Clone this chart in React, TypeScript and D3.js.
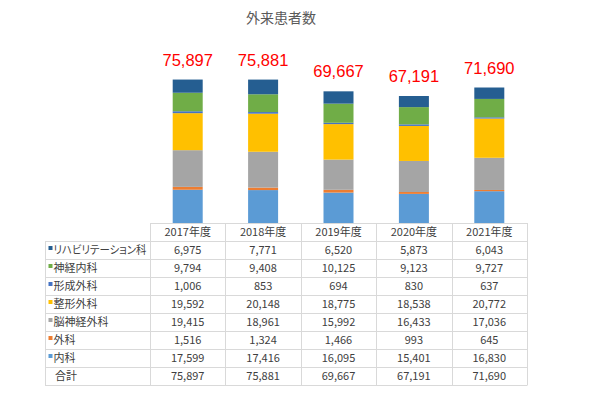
import { useEffect, useRef } from "react";
import * as d3 from "d3";

const width = 596;
const height = 397;

const years = ["2017年度", "2018年度", "2019年度", "2020年度", "2021年度"];
// bottom to top of the stack
const depts = ["内科", "外科", "脳神経外科", "整形外科", "形成外科", "神経内科", "リハビリテーション科"];
const colors = ["#5B9BD5", "#ED7D31", "#A5A5A5", "#FFC000", "#4472C4", "#70AD47", "#255E91"];

const naika = [17599, 17416, 16095, 15401, 16830];
const geka = [1516, 1324, 1466, 993, 645];
const noushinkei = [19415, 18961, 15992, 16433, 17036];
const seikei = [19592, 20148, 18775, 18538, 20772];
const keisei = [1006, 853, 694, 830, 637];
const shinkeinaika = [9794, 9408, 10125, 9123, 9727];
const rehab = [6975, 7771, 6520, 5873, 6043];
const totals = [75897, 75881, 69667, 67191, 71690];

const seriesValues = [naika, geka, noushinkei, seikei, keisei, shinkeinaika, rehab];

const jp = '"Noto Sans CJK JP", "Noto Sans", sans-serif';

const App = () => {
  const svgRef = useRef<SVGSVGElement>(null);

  useEffect(() => {
    const svg = d3.select(svgRef.current);
    svg.selectAll("*").remove();

    const tableTop = 223;
    const rowH = 18;
    const x = d3.scaleBand().domain(years).range([150, 527]).padding(0);
    const y = d3.scaleLinear().domain([0, 100000]).range([tableTop, 34]);
    const barW = 30;

    const rows = years.map((yr, i) => {
      const r: any = { year: yr };
      depts.forEach((d, j) => (r[d] = seriesValues[j][i]));
      return r;
    });
    const stacked = d3.stack().keys(depts)(rows);

    svg
      .append("text")
      .attr("x", 281)
      .attr("y", 23)
      .attr("text-anchor", "middle")
      .attr("font-family", jp)
      .attr("font-size", 14)
      .attr("fill", "#595959")
      .text("外来患者数");

    svg
      .append("g")
      .selectAll("g")
      .data(stacked)
      .join("g")
      .attr("fill", (_d, i) => colors[i])
      .selectAll("rect")
      .data((d) => d)
      .join("rect")
      .attr("x", (d: any) => x(d.data.year)! + x.bandwidth() / 2 - barW / 2)
      .attr("width", barW)
      .attr("y", (d) => y(d[1]))
      .attr("height", (d) => y(d[0]) - y(d[1]));

    svg
      .append("g")
      .selectAll("text")
      .data(totals)
      .join("text")
      .attr("x", (_d, i) => x(years[i])! + x.bandwidth() / 2)
      .attr("y", (d) => y(d) - 14)
      .attr("text-anchor", "middle")
      .attr("font-family", '"Liberation Sans", Arial, sans-serif')
      .attr("font-size", 16.5)
      .attr("fill", "#FF0000")
      .text((d) => d3.format(",")(d));

    // table
    const tbl = svg.append("g");
    const labelRows = [...depts].reverse();
    const labelColors = [...colors].reverse();
    const valueRows = [...seriesValues].reverse();
    const nRows = labelRows.length + 1;
    const bottom = tableTop + rowH * (nRows + 1);
    const line = "#D9D9D9";
    const fmt = d3.format(",");

    // horizontal lines
    tbl
      .append("line")
      .attr("x1", 150).attr("x2", 527)
      .attr("y1", tableTop + 0.5).attr("y2", tableTop + 0.5)
      .attr("stroke", line);
    for (let r = 1; r <= nRows + 1; r++) {
      const yy = tableTop + r * rowH + 0.5;
      tbl
        .append("line")
        .attr("x1", 45).attr("x2", 527)
        .attr("y1", yy).attr("y2", yy)
        .attr("stroke", line);
    }
    // vertical lines
    tbl
      .append("line")
      .attr("x1", 45.5).attr("x2", 45.5)
      .attr("y1", tableTop + rowH).attr("y2", bottom + 0.5)
      .attr("stroke", line);
    [150, ...years.map((yr) => x(yr)! + x.bandwidth())].forEach((xx) => {
      const px = Math.round(xx) + 0.5;
      tbl
        .append("line")
        .attr("x1", px).attr("x2", px)
        .attr("y1", tableTop).attr("y2", bottom + 0.5)
        .attr("stroke", line);
    });

    // header
    tbl
      .selectAll(".hdr")
      .data(years)
      .join("text")
      .attr("class", "hdr")
      .attr("x", (d) => x(d)! + x.bandwidth() / 2)
      .attr("y", tableTop + rowH / 2 + 4)
      .attr("text-anchor", "middle")
      .attr("font-family", jp)
      .attr("font-size", 11)
      .attr("fill", "#404040")
      .text((d) => d);

    labelRows.forEach((lab, r) => {
      const cy = tableTop + (r + 1) * rowH + rowH / 2;
      tbl
        .append("rect")
        .attr("x", 48.5)
        .attr("y", cy - 4)
        .attr("width", 4)
        .attr("height", 4)
        .attr("fill", labelColors[r]);
      const t = tbl
        .append("text")
        .attr("x", 53.5)
        .attr("y", cy + 4)
        .attr("font-family", jp)
        .attr("font-size", 11)
        .style("font-feature-settings", '"palt"')
        .attr("fill", "#404040")
        .text(lab);
      const node = t.node() as SVGTextElement;
      if (node.getComputedTextLength() > 93) {
        t.attr("textLength", 93).attr("lengthAdjust", "spacingAndGlyphs");
      }
      tbl
        .selectAll(".v" + r)
        .data(valueRows[r])
        .join("text")
        .attr("x", (_d, i) => x(years[i])! + x.bandwidth() / 2)
        .attr("y", cy + 4)
        .attr("text-anchor", "middle")
        .attr("font-family", jp)
        .attr("font-size", 11)
        .attr("fill", "#404040")
        .text((d) => fmt(d));
    });

    const ty = tableTop + nRows * rowH + rowH / 2;
    tbl
      .append("text")
      .attr("x", 55)
      .attr("y", ty + 4)
      .attr("font-family", jp)
      .attr("font-size", 11)
      .attr("fill", "#404040")
      .text("合計");
    tbl
      .selectAll(".tot")
      .data(totals)
      .join("text")
      .attr("class", "tot")
      .attr("x", (_d, i) => x(years[i])! + x.bandwidth() / 2)
      .attr("y", ty + 4)
      .attr("text-anchor", "middle")
      .attr("font-family", jp)
      .attr("font-size", 11)
      .attr("fill", "#404040")
      .text((d) => fmt(d));
  }, []);

  return (
    <svg
      ref={svgRef}
      width={width}
      height={height}
      style={{ position: "absolute", left: 0, top: 0, background: "#fff" }}
    />
  );
};

export default App;
